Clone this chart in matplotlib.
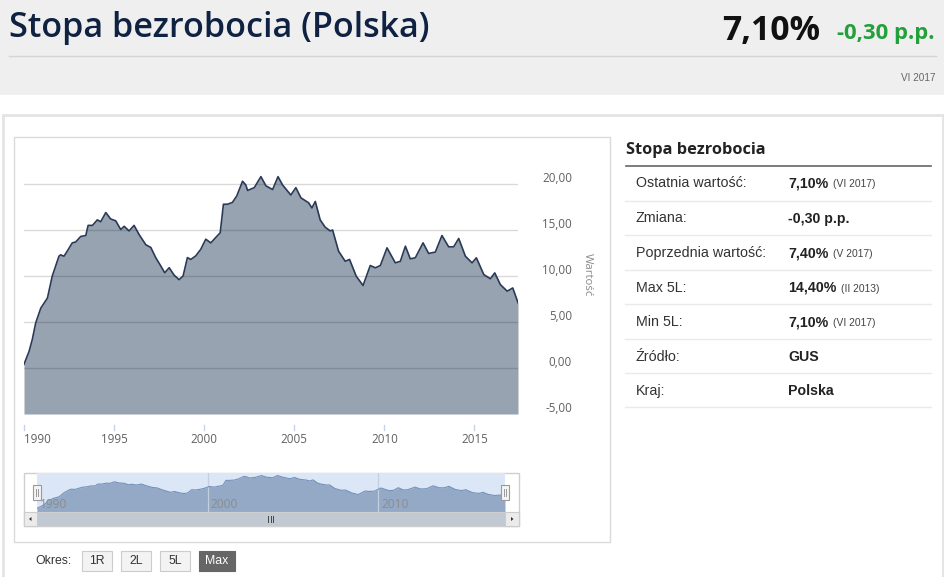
import matplotlib
matplotlib.use("Agg")
import matplotlib.pyplot as plt
from matplotlib.patches import Rectangle, Polygon
from matplotlib.lines import Line2D
from matplotlib.transforms import blended_transform_factory as blend, offset_copy

# ---------------- data ----------------
years = [1990.00, 1990.28, 1990.46, 1990.65, 1990.93, 1991.30, 1991.57, 1991.94, 1992.03, 1992.22,
         1992.40, 1992.68, 1992.87, 1993.15, 1993.43, 1993.56, 1993.80, 1994.07, 1994.26, 1994.54,
         1994.81, 1995.09, 1995.37, 1995.56, 1995.83, 1996.11, 1996.39, 1996.76, 1997.04, 1997.31,
         1997.59, 1997.81, 1998.06, 1998.33, 1998.61, 1998.83, 1999.07, 1999.26, 1999.54, 1999.81,
         2000.09, 2000.37, 2000.65, 2000.89, 2001.07, 2001.30, 2001.57, 2001.81, 2002.13, 2002.31,
         2002.41, 2002.78, 2003.15, 2003.43, 2003.80, 2004.10, 2004.35, 2004.81, 2005.09, 2005.37,
         2005.80, 2005.98, 2006.17, 2006.44, 2006.72, 2007.00, 2007.13, 2007.46, 2007.83, 2008.07,
         2008.44, 2008.82, 2009.22, 2009.50, 2009.78, 2010.15, 2010.61, 2010.89, 2011.17, 2011.44,
         2011.72, 2012.15, 2012.46, 2012.83, 2013.20, 2013.57, 2013.85, 2014.13, 2014.50, 2014.87,
         2015.11, 2015.52, 2015.89, 2016.13, 2016.44, 2016.82, 2017.13, 2017.42]
values = [0.4, 1.8, 3.1, 4.9, 6.5, 7.6, 10.0, 12.15, 12.3, 12.15,
          12.7, 13.6, 13.7, 14.3, 14.4, 15.5, 15.5, 16.1, 15.9, 16.9,
          16.2, 16.0, 15.05, 15.4, 14.9, 15.5, 14.5, 13.4, 13.1, 12.0,
          11.1, 10.35, 10.9, 10.1, 9.6, 10.0, 12.0, 11.8, 12.2, 12.9,
          14.0, 13.6, 14.2, 14.7, 17.8, 17.8, 18.0, 18.7, 20.3, 19.9,
          19.3, 19.6, 20.8, 19.8, 19.4, 20.8, 19.9, 18.8, 19.6, 18.5,
          17.95, 17.4, 18.1, 16.1, 15.3, 14.9, 15.0, 12.7, 11.6, 11.8,
          9.98, 8.97, 11.14, 10.89, 11.14, 13.06, 11.43, 11.6, 13.24, 11.87,
          11.98, 13.6, 12.45, 12.6, 14.4, 13.17, 13.17, 14.08, 12.15, 11.43,
          11.98, 10.16, 9.7, 10.34, 9.07, 8.35, 8.7, 7.1]

x_ticks = [1990, 1995, 2000, 2005, 2010, 2015]
y_ticks = [-5, 0, 5, 10, 15, 20]
nav_ticks = [1990, 2000, 2010]

title = "Stopa bezrobocia (Polska)"
last_value = "7,10%"
change = "-0,30 p.p."
period = "VI 2017"
panel_title = "Stopa bezrobocia"
table_labels = ["Ostatnia wartość:", "Zmiana:", "Poprzednia wartość:", "Max 5L:",
                "Min 5L:", "Źródło:", "Kraj:"]
table_values = ["7,10%", "-0,30 p.p.", "7,40%", "14,40%", "7,10%", "GUS", "Polska"]
table_notes = ["(VI 2017)", "", "(V 2017)", "(II 2013)", "(VI 2017)", "", ""]
buttons = ["1R", "2L", "5L", "Max"]

# ---------------- figure helpers ----------------
W, H = 945, 577
fig = plt.figure(figsize=(W / 100, H / 100), dpi=100)
fig.patch.set_facecolor("white")
renderer = fig.canvas.get_renderer()


def fx(x):
    return x / W


def fy(y):
    return 1 - y / H


def rect(x0, y0, x1, y1, fc="none", ec="none", lw=1.0, z=0):
    fig.patches.append(Rectangle((fx(x0), fy(y1)), (x1 - x0) / W, (y1 - y0) / H,
                                 transform=fig.transFigure, facecolor=fc, edgecolor=ec,
                                 linewidth=lw, zorder=z))


def line(xs, ys, color, lw=1.0, z=1):
    fig.lines.append(Line2D([fx(v) for v in xs], [fy(v) for v in ys],
                            transform=fig.transFigure, color=color, lw=lw, zorder=z))


def text(x, y, s, **kw):
    return fig.text(fx(x), fy(y), s, **kw)


def fit_width(t, w):
    bb = t.get_window_extent(renderer=renderer)
    t.set_fontsize(t.get_fontsize() * w / bb.width)


# ---------------- page background ----------------
rect(0, 0, W, 95, fc="#efefef", z=0)
rect(3, 115, 943, 600, fc="white", ec="#e4e4e4", lw=2, z=0.1)
rect(14, 137, 610, 542, fc="white", ec="#dadada", lw=1, z=0.2)

# header
t = text(9.3, 37.3, title, family="Open Sans", weight="semibold", color="#0f2242",
         fontsize=26, va="baseline")
fit_width(t, 421)
t = text(721.7, 40, last_value, family="Open Sans", weight="bold", color="#111111",
         fontsize=26, va="baseline")
fit_width(t, 98)
t = text(836.7, 39.3, change, family="Open Sans", weight="bold", color="#23a03c",
         fontsize=15, va="baseline")
fit_width(t, 98)
line([9, 936], [55.7, 55.7], "#d4d4d4", lw=1)
text(936, 81, period, family="Liberation Sans", color="#666666", fontsize=7.2,
     ha="right", va="baseline")

# ---------------- main chart ----------------
x_lo, x_hi = 1990.0, 2017.42
y_lo, y_hi = -5.0, 22.5
ax_l, ax_r, ax_b, ax_t = 24, 518, 414, 161
ax = fig.add_axes([fx(ax_l), fy(ax_b), (ax_r - ax_l) / W, (ax_b - ax_t) / H])
ax.set_zorder(2)
ax.axis("off")
ax.set_xlim(x_lo, x_hi)
ax.set_ylim(y_lo, y_hi)
ax.fill_between(years, values, y_lo, color="#98a3b2", lw=0, zorder=1)
for v in y_ticks[1:]:
    ax.axhline(v, color="black", alpha=0.15, lw=1, zorder=2)
ax.plot(years, values, color="#2a3a56", lw=1.2, zorder=3, solid_joinstyle="round")

ytr = offset_copy(blend(fig.transFigure, ax.transData), fig=fig, x=0, y=5.5, units="dots")
for v in y_ticks:
    ax.text(fx(572), v, f"{v:.2f}".replace(".", ","), transform=ytr, ha="right",
            va="center", family="Open Sans", fontsize=8.4, color="#606060", clip_on=False)
text(587, 275, "Wartość", rotation=270, ha="center", va="center", family="Open Sans",
     fontsize=8.2, color="#8a8a8a", zorder=3)

xtr = blend(ax.transData, fig.transFigure)
for i, yr in enumerate(x_ticks):
    ax.add_line(Line2D([yr, yr], [fy(424.5), fy(430)], transform=xtr, color="#c8d4e2",
                       lw=1, clip_on=False))
    ax.text(yr, fy(439.5), str(yr), transform=xtr, ha="left" if i == 0 else "center",
            va="center", family="Open Sans", fontsize=8.4, color="#606060", clip_on=False)

# ---------------- navigator ----------------
rect(24, 473.3, 519, 526, fc="white", ec="#cfcfcf", lw=1, z=0.3)
rect(37, 473.3, 505, 511.7, fc="#dbe7f6", z=0.4)
nav = fig.add_axes([fx(37), fy(511.7), (505 - 37) / W, (511.7 - 473.3) / H])
nav.set_zorder(2)
nav.axis("off")
nav.set_xlim(x_lo, x_hi)
nav.set_ylim(-1.7, 22.2)
nav.fill_between(years, values, -1.7, color="#94a9c5", lw=0, zorder=1)
nav.plot(years, values, color="#7391ba", lw=0.8, zorder=3)
ntr = offset_copy(blend(nav.transData, fig.transFigure), fig=fig, x=3, y=0, units="dots")
for yr in nav_ticks:
    if yr != nav_ticks[0]:
        nav.axvline(yr, color="#c3cfdd", lw=0.9, zorder=2)
    nav.text(yr, fy(504.5), str(yr), transform=ntr, ha="left", va="center",
             family="Open Sans", fontsize=8.6, color="#8c8c8c", clip_on=False, zorder=4)

# handles
for hx in (37, 505):
    rect(hx - 3.8, 485, hx + 3.8, 500, fc="#f4f4f4", ec="#9a9a9a", lw=0.8, z=5)
    line([hx - 1, hx - 1], [489, 496], "#9a9a9a", lw=0.7, z=6)
    line([hx + 1, hx + 1], [489, 496], "#9a9a9a", lw=0.7, z=6)

# scrollbar
rect(24, 512, 519, 526, fc="#c1c9d2", ec="#cfcfcf", lw=0.8, z=5)
rect(24, 512, 37, 526, fc="#ebebeb", ec="#cccccc", lw=0.8, z=6)
rect(505, 512, 519, 526, fc="#ebebeb", ec="#cccccc", lw=0.8, z=6)
fig.patches.append(Polygon([(fx(29), fy(519)), (fx(31.5), fy(517)), (fx(31.5), fy(521))],
                           closed=True, transform=fig.transFigure, fc="#333333", ec="none",
                           zorder=7))
fig.patches.append(Polygon([(fx(513.5), fy(519)), (fx(511), fy(517)), (fx(511), fy(521))],
                           closed=True, transform=fig.transFigure, fc="#333333", ec="none",
                           zorder=7))
for gx in (268.5, 271, 273.5):
    line([gx, gx], [516, 522], "#444444", lw=0.7, z=7)

# ---------------- period buttons ----------------
text(35, 561.5, "Okres:", family="Liberation Sans", fontsize=8.8, color="#333333",
     ha="left", va="center")
btn_x = [(82, 112), (121, 151), (160, 190), (199, 235)]
for (bx0, bx1), lab in zip(btn_x, buttons):
    active = lab == "Max"
    rect(bx0, 551, bx1, 571, fc="#666666" if active else "#f3f3f3",
         ec="#666666" if active else "#cccccc", lw=0.8, z=2)
    text((bx0 + bx1) / 2, 561.5, lab, family="Liberation Sans", fontsize=8.8,
         color="white" if active else "#333333", ha="center", va="center", zorder=3)

# ---------------- right info panel ----------------
t = text(626, 150, panel_title, family="Open Sans", weight="bold", color="#222222",
         fontsize=12, va="center")
fit_width(t, 140)
line([626, 931], [166, 166], "#666666", lw=1.2)
row_y = [183.3, 218.5, 253.3, 287.7, 322.3, 356.7, 390.7]
sep_y = [201, 235.3, 270.3, 304.3, 339.3, 373.3, 407.3]
for ry, sy, lab, val, note in zip(row_y, sep_y, table_labels, table_values, table_notes):
    text(636, ry, lab, family="Liberation Sans", fontsize=10.3, color="#333333", va="center")
    tv = text(788, ry, val, family="Liberation Sans", weight="bold", fontsize=10.2,
              color="#222222", va="center")
    if note:
        bb = tv.get_window_extent(renderer=renderer)
        text(bb.x1 + 4.5, ry + 0.8, note, family="Liberation Sans", fontsize=7.4,
             color="#444444", va="center")
    line([625, 931.5], [sy, sy], "#eaeaea", lw=1)

fig.savefig("out.png", dpi=100, facecolor="white")
